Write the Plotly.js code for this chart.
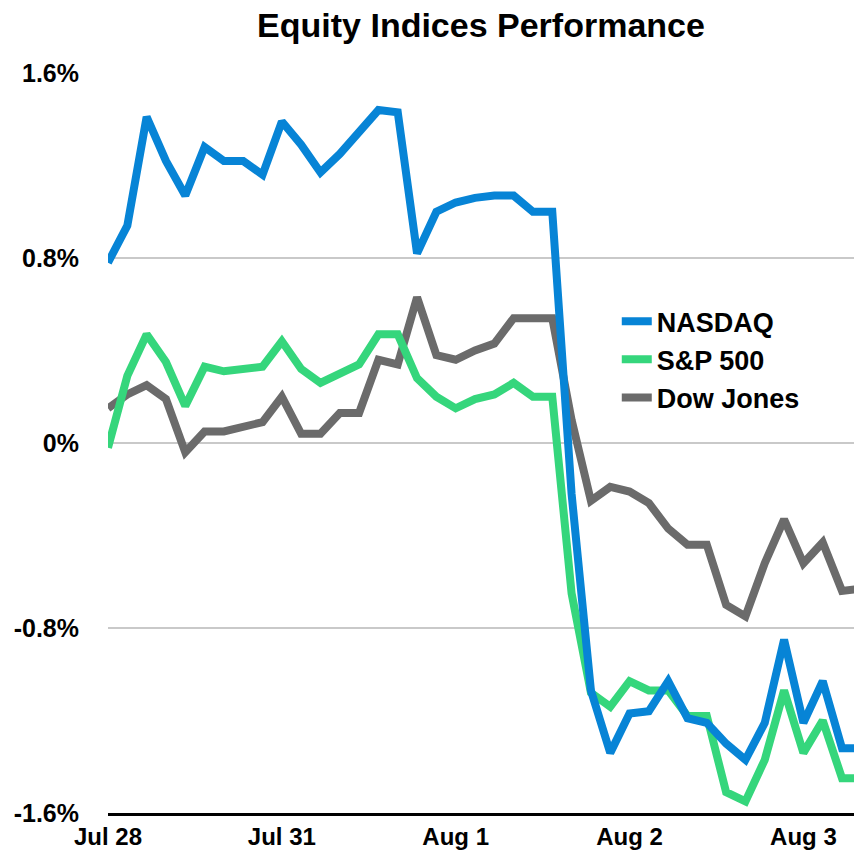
<!DOCTYPE html>
<html>
<head>
<meta charset="utf-8">
<script src="https://cdn.plot.ly/plotly-3.0.1.min.js"></script>
<style>html,body{margin:0;padding:0;background:#fff;}#chart{width:854px;height:852px;}</style>
</head>
<body>
<div id="chart"></div>
<script>
// x index: 9 intraday points per trading day
const pointIndex = [0,1,2,3,4,5,6,7,8,9,10,11,12,13,14,15,16,17,18,19,20,21,22,23,24,25,26,27,28,29,30,31,32,33,34,35,36,37,38,39];
const dayTickIndex = [0, 9, 18, 27, 36];
const dayLabels = ["Jul 28", "Jul 31", "Aug 1", "Aug 2", "Aug 3"];

const nasdaq = [0.78,0.94,1.41,1.22,1.07,1.28,1.22,1.22,1.16,1.39,1.29,1.17,1.25,1.34,1.44,1.43,
  0.82,1.00,1.04,1.06,1.07,1.07,1.00,1.00,-0.22,-1.07,-1.34,-1.17,-1.16,-1.03,-1.19,-1.21,-1.30,-1.37,
  -1.21,-0.85,-1.21,-1.03,-1.32,-1.32];
const sp500 = [-0.02,0.29,0.47,0.35,0.16,0.33,0.31,0.32,0.33,0.44,0.32,0.26,0.30,0.34,0.47,0.47,
  0.28,0.20,0.15,0.19,0.21,0.26,0.20,0.20,-0.65,-1.08,-1.14,-1.03,-1.07,-1.07,-1.18,-1.18,-1.51,-1.55,
  -1.37,-1.07,-1.34,-1.20,-1.45,-1.45];
const dowJones = [0.15,0.21,0.25,0.19,-0.04,0.05,0.05,0.07,0.09,0.20,0.04,0.04,0.13,0.13,0.36,0.34,
  0.63,0.38,0.36,0.40,0.43,0.54,0.54,0.54,0.10,-0.25,-0.19,-0.21,-0.26,-0.37,-0.44,-0.44,-0.70,-0.75,
  -0.52,-0.33,-0.52,-0.43,-0.64,-0.63];

const yTickVals = [-1.6, -0.8, 0, 0.8, 1.6];
const yTickText = ["-1.6%", "-0.8%", "0%", "0.8%", "1.6%"];

const seriesNames = ["NASDAQ", "S&P 500", "Dow Jones"];
const seriesColors = ["#0784d6", "#35d67c", "#6b6b6b"];

const traces = [
  {x: pointIndex, y: dowJones, name: seriesNames[2], legendrank: 3,
   type: "scatter", mode: "lines", line: {color: seriesColors[2], width: 8}},
  {x: pointIndex, y: sp500, name: seriesNames[1], legendrank: 2,
   type: "scatter", mode: "lines", line: {color: seriesColors[1], width: 8}},
  {x: pointIndex, y: nasdaq, name: seriesNames[0], legendrank: 1,
   type: "scatter", mode: "lines", line: {color: seriesColors[0], width: 8}}
];

const layout = {
  width: 854, height: 852,
  margin: {l: 108, r: 0, t: 73, b: 39},
  paper_bgcolor: "#ffffff", plot_bgcolor: "#ffffff",
  font: {family: "Liberation Sans, Arial, sans-serif", color: "#000"},
  title: {text: "<b>Equity Indices Performance</b>", x: 0.5, xref: "paper", y: 0.971, yanchor: "middle",
          font: {size: 34, family: "Liberation Sans, Arial, sans-serif", color: "#000"}},
  showlegend: true,
  legend: {x: 0.682, y: 0.697, xanchor: "left", yanchor: "top",
           font: {size: 27, family: "Liberation Sans, Arial, sans-serif", color: "#000", weight: "bold"},
           bgcolor: "rgba(0,0,0,0)"},
  xaxis: {range: [0, 38.62], tickvals: dayTickIndex, ticktext: dayLabels, showgrid: false, zeroline: false,
          showline: true, linecolor: "#000", linewidth: 3, ticks: "", ticklabelstandoff: 0,
          tickfont: {size: 24, family: "Liberation Sans Narrow, Arial Narrow, Liberation Sans, sans-serif", weight: "bold", color: "#000"}},
  yaxis: {range: [-1.6, 1.6], tickvals: yTickVals, ticktext: yTickText, showgrid: true, gridcolor: "#c9c9c9",
          gridwidth: 1.3, zeroline: false, showline: false, ticks: "", ticklabelstandoff: 28,
          tickfont: {size: 25, family: "Liberation Sans, Arial, sans-serif", weight: "bold", color: "#000"}}
};

Plotly.newPlot("chart", traces, layout, {displayModeBar: false, staticPlot: true});
</script>
</body>
</html>
